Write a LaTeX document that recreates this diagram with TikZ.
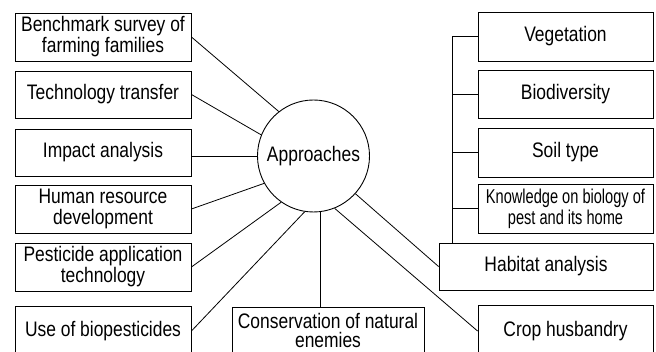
\documentclass[tikz,border=0pt]{standalone}
\usepackage{fontspec}
\setmainfont[FakeStretch=0.83]{Liberation Sans}
\newfontfamily\narrowfont[FakeStretch=0.73]{Liberation Sans}
\begin{document}
\begin{tikzpicture}[x=1pt,y=-1pt,
  box/.style={draw, line width=0.9pt, align=center, inner sep=0pt, font=\fontsize{21}{21}\selectfont},
  lbox/.style={box, minimum width=176pt},
  rbox/.style={box, minimum width=175pt},
  link/.style={line width=0.8pt}]
\useasboundingbox (0,0) rectangle (656,352);
\clip (0,0) rectangle (656,352);
\fill[white] (0,0) rectangle (656,352);
% centre
\node[draw, circle, minimum size=112pt, inner sep=0pt, line width=0.9pt, font=\fontsize{21}{21}\selectfont] (c) at (313.5,156) {Approaches};
% left boxes
\node[lbox, minimum height=48pt] (b1) at (103,37) {Benchmark survey of\\farming families};
\node[lbox, minimum height=47pt] (b2) at (103,94.5) {Technology transfer};
\node[lbox, minimum height=47pt] (b3) at (103,152.5) {Impact analysis};
\node[lbox, minimum height=48pt] (b4) at (103,209) {Human resource\\development};
\node[lbox, minimum height=48pt] (b5) at (103,267) {Pesticide application\\technology};
\node[lbox, minimum height=50pt] (b6) at (103,331) {Use of biopesticides};
% bottom centre
\node[box, minimum width=192pt, minimum height=46pt, font=\fontsize{21}{19}\selectfont] (b7) at (328,330) {Conservation of natural\\enemies};
% right boxes
\node[rbox, minimum height=49pt] (veg) at (565.5,36.5) {Vegetation};
\node[rbox, minimum height=48pt] (bio) at (565.5,94) {Biodiversity};
\node[rbox, minimum height=49pt] (soil) at (565.5,152.5) {Soil type};
\node[rbox, minimum height=49pt, font=\narrowfont\fontsize{20}{21}\selectfont] (know) at (565.5,208.5) {Knowledge on biology of\\pest and its home};
\node[box, minimum width=214pt, minimum height=47pt] (hab) at (546,266.5) {Habitat analysis};
\node[rbox, minimum height=52pt] (crop) at (565.5,331) {Crop husbandry};
% spokes
\draw[link] (b1.east) -- (c.128);
\draw[link] (b2.east) -- (c.158);
\draw[link] (b3.east |- c) -- (c.west);
\draw[link] (b4.east) -- (c.209);
\draw[link] (b5.east) -- (c.235);
\draw[link] (b6.east) -- (c.261);
\draw[link] (c.277) -- (c.277 |- b7.north);
\draw[link] (c.318) -- (hab.west);
\draw[link] (c.292) -- (crop.west);
% bracket
\coordinate (sp) at (452,0);
\draw[link] (hab.north -| sp) -- (veg.west -| sp) -- (veg.west);
\draw[link] (bio.west -| sp) -- (bio.west);
\draw[link] (soil.west -| sp) -- (soil.west);
\draw[link] (know.west -| sp) -- (know.west);
\end{tikzpicture}
\end{document}
